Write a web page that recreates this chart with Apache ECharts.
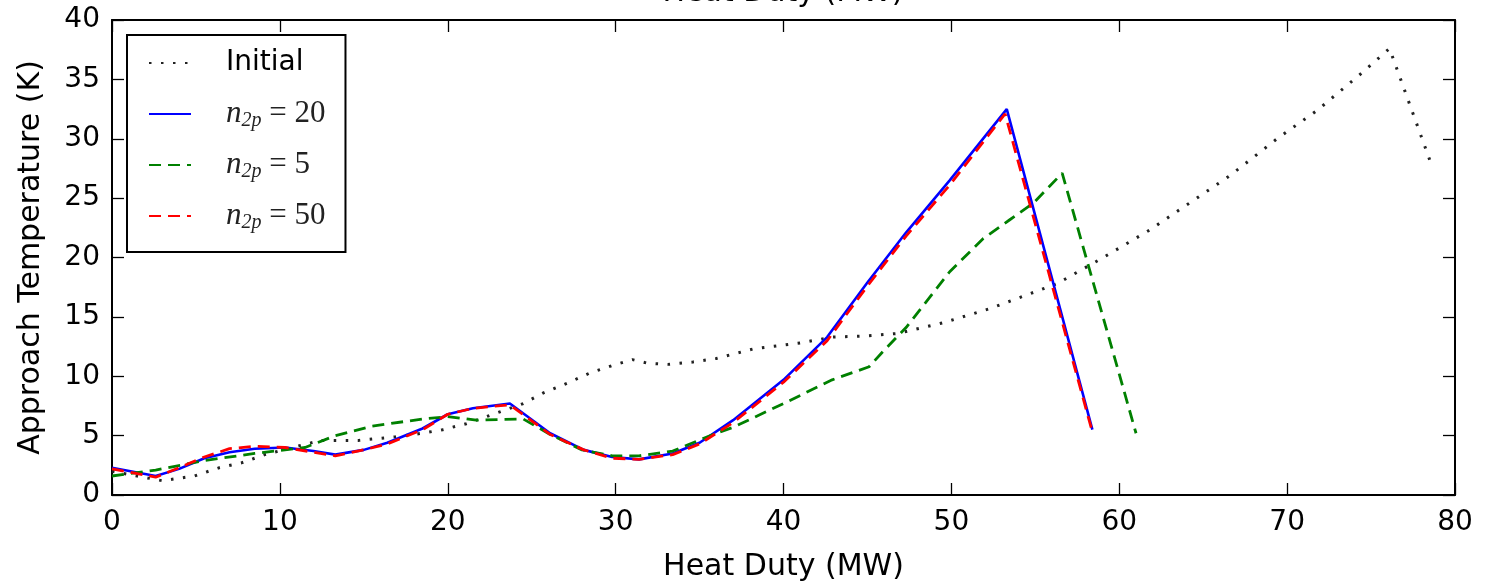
<!DOCTYPE html>
<html>
<head>
<meta charset="utf-8">
<script src="https://cdn.jsdelivr.net/npm/echarts@6/dist/echarts.min.js"></script>
<style>
html,body{margin:0;padding:0;background:#fff;}
#chart{width:1496px;height:582px;}
</style>
</head>
<body>
<div id="chart"></div>
<script>
// ---- data ----
const xTicks = [0, 10, 20, 30, 40, 50, 60, 70, 80];
const yTicks = [0, 5, 10, 15, 20, 25, 30, 35, 40];
const seriesNames = ['Initial', 'n20', 'n5', 'n50'];
const legendLabels = { 'Initial': null, 'n20': '20', 'n5': '5', 'n50': '50' };

const initialX = [0, 1.5, 3.0, 4.9, 6.4, 7.7, 9.1, 11.3, 12.5, 14.7, 16.9, 18.5, 19.7, 21.1, 23.1, 24.5, 25.7, 27.1, 28.5, 29.8, 31.0, 31.9, 33.1, 34.6, 36.0, 38.2, 41.0, 42.9, 45.0, 46.8, 49.5, 52.3, 56.3, 58.8, 61.8, 64.2, 66.6, 69.4, 71.8, 74.5, 76.1, 78.6];
const initialY = [2.0, 1.6, 1.2, 1.6, 2.3, 2.7, 3.4, 4.2, 4.6, 4.6, 4.9, 5.2, 5.5, 6.0, 7.0, 7.7, 8.6, 9.4, 10.3, 10.9, 11.4, 11.1, 11.0, 11.2, 11.5, 12.3, 12.8, 13.3, 13.4, 13.6, 14.5, 15.7, 17.8, 19.8, 22.3, 24.6, 26.9, 30.0, 32.4, 35.6, 37.6, 27.8];

const n20X = [0, 2.6, 4.0, 5.5, 7.0, 8.5, 10.3, 12.0, 13.3, 15.0, 16.4, 18.5, 20.0, 21.5, 23.7, 26.1, 28.1, 29.8, 31.4, 33.4, 35.0, 37.0, 40.0, 42.6, 45.0, 47.3, 49.9, 53.3, 58.4];
const n20Y = [2.3, 1.6, 2.2, 3.1, 3.6, 3.9, 4.0, 3.7, 3.4, 3.8, 4.4, 5.6, 6.8, 7.3, 7.7, 5.2, 3.8, 3.2, 3.0, 3.5, 4.4, 6.3, 9.7, 13.3, 17.9, 22.1, 26.5, 32.5, 5.5];

const n5X = [0, 2.6, 5.5, 8.5, 11.5, 13.3, 15.5, 18.5, 20.0, 21.7, 24.5, 26.1, 28.0, 29.8, 31.4, 33.4, 35.8, 37.0, 40.0, 42.9, 45.1, 46.0, 47.3, 49.9, 51.9, 53.5, 54.9, 56.6, 61.0];
const n5Y = [1.6, 2.1, 2.9, 3.5, 4.0, 5.0, 5.8, 6.4, 6.6, 6.3, 6.4, 5.1, 3.8, 3.3, 3.3, 3.7, 5.1, 5.7, 7.7, 9.7, 10.8, 12.2, 14.1, 18.8, 21.6, 23.2, 24.6, 27.1, 5.2];

const n50X = [0, 2.6, 4.0, 5.5, 7.0, 8.5, 10.3, 12.0, 13.3, 15.0, 16.4, 18.5, 20.0, 21.5, 23.7, 26.1, 28.1, 29.8, 31.4, 33.4, 35.0, 37.0, 40.0, 42.6, 45.0, 47.3, 49.9, 53.2, 58.4];
const n50Y = [2.2, 1.5, 2.3, 3.2, 3.9, 4.1, 4.0, 3.6, 3.3, 3.8, 4.3, 5.5, 6.8, 7.3, 7.6, 5.1, 3.8, 3.1, 3.0, 3.4, 4.3, 6.1, 9.5, 13.0, 17.6, 21.8, 26.1, 32.1, 5.3];

function zip(xs, ys) { return xs.map((x, i) => [x, ys[i]]); }

const FONT = 'DejaVu Sans';
const SERIF = 'Liberation Serif';

const chart = echarts.init(document.getElementById('chart'), null, { renderer: 'canvas' });

const baseX = {
  type: 'value', min: xTicks[0], max: xTicks[xTicks.length - 1], interval: 10,
  splitLine: { show: false },
  axisLine: { show: true, onZero: false, lineStyle: { color: '#000', width: 2 } },
  axisTick: { show: true, inside: true, length: 12, lineStyle: { color: '#000', width: 1.3 } }
};
const baseY = {
  type: 'value', min: yTicks[0], max: yTicks[yTicks.length - 1], interval: 5,
  splitLine: { show: false },
  axisLine: { show: true, onZero: false, lineStyle: { color: '#000', width: 2 } },
  axisTick: { show: true, inside: true, length: 12, lineStyle: { color: '#000', width: 1.3 } }
};

const option = {
  animation: false,
  backgroundColor: '#fff',
  title: {
    text: 'Heat Duty (MW)', left: 783, top: -22, padding: 0, textAlign: 'center',
    textStyle: { fontFamily: FONT, fontSize: 30, fontWeight: 'normal', color: '#000' }
  },
  grid: { left: 112, right: 41, top: 20, bottom: 87, outerBoundsMode: 'none', containLabel: false },
  legend: {
    orient: 'vertical', left: 127, top: 35,
    data: seriesNames,
    itemWidth: 42, itemHeight: 14, itemGap: 17,
    padding: [11, 20, 19, 21],
    borderColor: '#000', borderWidth: 2, borderRadius: 0, backgroundColor: '#fff',
    itemStyle: { opacity: 0, color: 'transparent', borderWidth: 0 },
    textStyle: {
      fontFamily: FONT, fontSize: 28, color: '#000', lineHeight: 34, padding: [0, 0, 0, 30],
      rich: {
        t: { fontFamily: FONT, fontSize: 28, color: '#000', lineHeight: 34 },
        n: { fontFamily: SERIF, fontStyle: 'italic', fontSize: 31, color: '#222', lineHeight: 34 },
        s: { fontFamily: SERIF, fontStyle: 'italic', fontSize: 20, color: '#222', lineHeight: 34, verticalAlign: 'bottom' },
        e: { fontFamily: SERIF, fontSize: 31, color: '#222', lineHeight: 34 }
      }
    },
    formatter: function (name) {
      const v = legendLabels[name];
      if (v === null || v === undefined) return '{t|' + name + '}';
      return '{n|n}{s|2p}{e| = ' + v + '}';
    }
  },
  xAxis: [
    Object.assign({}, baseX, {
      position: 'bottom',
      name: 'Heat Duty (MW)', nameLocation: 'middle', nameGap: 57,
      nameTextStyle: { fontFamily: FONT, fontSize: 30, color: '#000' },
      axisLabel: { show: true, margin: 14, fontFamily: FONT, fontSize: 28, color: '#000' }
    }),
    Object.assign({}, baseX, { position: 'top', axisLabel: { show: false } })
  ],
  yAxis: [
    Object.assign({}, baseY, {
      position: 'left',
      name: 'Approach Temperature (K)', nameLocation: 'middle', nameGap: 66,
      nameTextStyle: { fontFamily: FONT, fontSize: 30, color: '#000' },
      axisLabel: { show: true, margin: 12, fontFamily: FONT, fontSize: 28, color: '#000' }
    }),
    Object.assign({}, baseY, { position: 'right', axisLabel: { show: false } })
  ],
  series: [
    {
      name: 'Initial', type: 'line', data: zip(initialX, initialY), symbol: 'none',
      xAxisIndex: 0, yAxisIndex: 0,
      lineStyle: { color: '#222', width: 3, type: [2.5, 9.5], cap: 'butt' },
      itemStyle: { color: '#000' }
    },
    {
      name: 'n20', type: 'line', data: zip(n20X, n20Y), symbol: 'none',
      xAxisIndex: 0, yAxisIndex: 0,
      lineStyle: { color: '#0000ff', width: 2.6, type: 'solid' },
      itemStyle: { color: '#0000ff' }
    },
    {
      name: 'n5', type: 'line', data: zip(n5X, n5Y), symbol: 'none',
      xAxisIndex: 0, yAxisIndex: 0,
      lineStyle: { color: '#008000', width: 2.8, type: [12, 7] },
      itemStyle: { color: '#008000' }
    },
    {
      name: 'n50', type: 'line', data: zip(n50X, n50Y), symbol: 'none',
      xAxisIndex: 0, yAxisIndex: 0,
      lineStyle: { color: '#ff0000', width: 2.8, type: [12, 7] },
      itemStyle: { color: '#ff0000' }
    }
  ]
};
chart.setOption(option);
</script>
</body>
</html>
